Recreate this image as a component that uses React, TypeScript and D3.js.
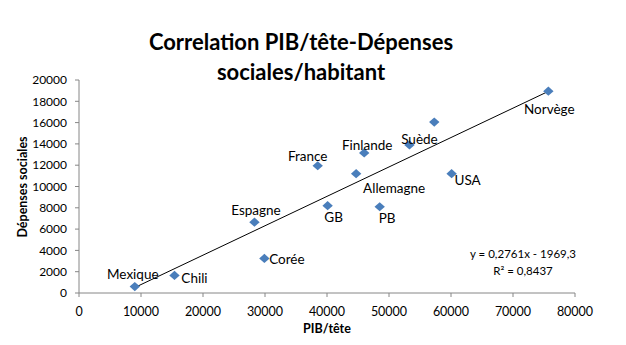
import React from "react";
import * as d3 from "d3";

const countries = ["Mexique","Chili","Espagne","Corée","France","GB","Allemagne","Finlande","PB","Suède","","USA","Norvège"];
const pibTete = [9000,15400,28300,29900,38500,40100,44700,46000,48500,53300,57300,60100,75700];
const depenses = [600,1650,6650,3250,11950,8200,11200,13150,8100,13900,16050,11200,18950];
// label offsets (dx, dy) relative to point, in px
const labelDx = [-2,20,1.5,22.5,-10,6,38,3,7.5,10,0,16,1];
const labelDy = [-12,3,-12,1,-9,12,15,-8,12,-6,0,7,18];
const xTicks = [0,10000,20000,30000,40000,50000,60000,70000,80000];
const yTicks = [0,2000,4000,6000,8000,10000,12000,14000,16000,18000,20000];
const slope = 0.2761;
const intercept = -1969.3;

const FONT = "Lato, 'Open Sans', sans-serif";

export default function App() {
  const W = 626, H = 345;
  const x = d3.scaleLinear().domain([0, 80000]).range([79, 575]);
  const y = d3.scaleLinear().domain([0, 20000]).range([293, 80]);
  const xMin = d3.min(pibTete)!, xMax = d3.max(pibTete)!;
  const trend = d3.line<number>().x(d => x(d)).y(d => y(slope * d + intercept));
  const diamond = "M0,-4.6L5.2,0L0,4.6L-5.2,0Z";
  const axisColor = "#868686";
  return (
    <svg width={W} height={H} style={{ position: "absolute", left: 0, top: 0, background: "#fff" }} fontFamily={FONT}>
      <rect width={W} height={H} fill="#fff" />
      <text x={301} y={50} textAnchor="middle" fontSize={22} fontWeight="bold" fill="#000">Correlation PIB/tête-Dépenses</text>
      <text x={301} y={80} textAnchor="middle" fontSize={22} fontWeight="bold" fill="#000">sociales/habitant</text>
      {/* axes */}
      <line x1={79} x2={79} y1={80} y2={293} stroke={axisColor} />
      <line x1={79} x2={575} y1={293} y2={293} stroke={axisColor} />
      {yTicks.map(t => (
        <g key={"y" + t}>
          <line x1={75} x2={79} y1={y(t)} y2={y(t)} stroke={axisColor} />
          <text x={67} y={y(t)} dy="0.35em" textAnchor="end" fontSize={12} fill="#000">{t}</text>
        </g>
      ))}
      {xTicks.map(t => (
        <g key={"x" + t}>
          <line x1={x(t)} x2={x(t)} y1={293} y2={297} stroke={axisColor} />
          <text x={x(t)} y={311.5} dy="0.35em" textAnchor="middle" fontSize={12.5} fill="#000">{t}</text>
        </g>
      ))}
      <text x={327} y={329} dy="0.35em" textAnchor="middle" fontSize={12.5} fontWeight="bold" fill="#000">PIB/tête</text>
      <text transform={`translate(23,187) rotate(-90)`} dy="0.35em" textAnchor="middle" fontSize={12.5} fontWeight="bold" fill="#000">Dépenses sociales</text>
      {/* trend line */}
      <path d={trend([xMin, xMax])!} stroke="#000" strokeWidth={1} fill="none" />
      {/* points */}
      {pibTete.map((v, i) => (
        <path key={"p" + i} d={diamond} transform={`translate(${x(v)},${y(depenses[i])})`} fill="#4a7ebb" />
      ))}
      {countries.map((c, i) => c ? (
        <text key={"l" + i} x={x(pibTete[i]) + labelDx[i]} y={y(depenses[i]) + labelDy[i]} dy="0.35em" textAnchor="middle" fontSize={13.5} fill="#000">{c}</text>
      ) : null)}
      <text x={523} y={254} dy="0.35em" textAnchor="middle" fontSize={11.5} fill="#000">y = 0,2761x - 1969,3</text>
      <text x={523} y={271} dy="0.35em" textAnchor="middle" fontSize={11.5} fill="#000">R² = 0,8437</text>
    </svg>
  );
}
